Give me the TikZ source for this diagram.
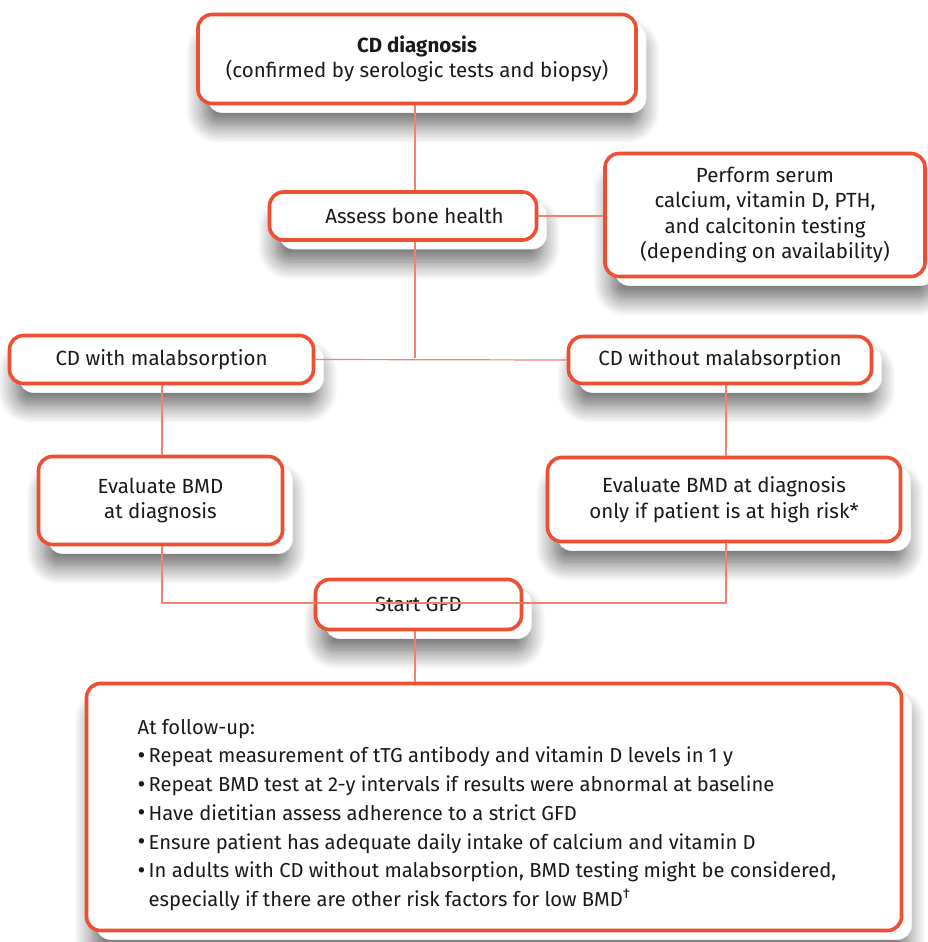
\documentclass[tikz,border=0pt]{standalone}
\usepackage{fontspec}
\setmainfont{Fira Sans}
\usetikzlibrary{shadows,shadows.blur}
\definecolor{cdred}{HTML}{EE4E32}
\definecolor{cdline}{HTML}{F2826F}
\definecolor{cdtext}{HTML}{1A1A1A}
\tikzset{
  card/.style={
    blur shadow={shadow xshift=6pt, shadow yshift=-22pt, shadow blur radius=18pt, shadow opacity=60, shadow blur steps=14},
    general shadow={fill=white, draw=black!6, line width=0.6pt, shadow xshift=10pt, shadow yshift=-9pt},
    draw=cdred, line width=3.6pt, fill=white, rounded corners=14pt,
    align=center, text=cdtext, inner sep=0pt,
    font=\fontsize{20.5pt}{25.5pt}\selectfont},
  conn/.style={draw=cdline, line width=1.2pt}
}
\newcommand{\bul}{\makebox[11pt][l]{\raisebox{-0.5pt}{\fontsize{24pt}{24pt}\selectfont\textbullet}}}
\begin{document}
\begin{tikzpicture}[x=1pt,y=-1pt]
\useasboundingbox (0,0) rectangle (927,942);
\node[card, minimum width=438pt, minimum height=89pt] (diag) at (417,59)
  {\textbf{CD diagnosis}\\(confirmed by serologic tests and biopsy)};
\node[card, minimum width=267pt, minimum height=48pt] (assess) at (403,216)
  {\hspace*{23pt}Assess bone health};
\node[card, minimum width=320pt, minimum height=123pt] (perform) at (765,215)
  {Perform serum\\calcium, vitamin D, PTH,\\and calcitonin testing\\(depending on availability)};
\node[card, minimum width=304pt, minimum height=48pt] (withm) at (161.5,359.5)
  {CD with malabsorption};
\node[card, minimum width=303pt, minimum height=47pt] (withoutm) at (720,360)
  {CD without malabsorption};
\node[card, minimum width=244pt, minimum height=88pt] (evalL) at (160.5,500.5)
  {Evaluate BMD\\at diagnosis};
\node[card, minimum width=353pt, minimum height=84pt] (evalR) at (724,499.5)
  {Evaluate BMD at diagnosis\\only if patient is at high risk*};
\node[card, minimum width=206pt, minimum height=50pt] (gfd) at (418.5,604.5)
  {Start GFD};
\node[card, minimum width=815pt, minimum height=247pt, align=left,
      font=\fontsize{20.2pt}{28.7pt}\selectfont] (follow) at (494,807)
  {\rule{0pt}{31pt}At follow-up:\\
   \bul Repeat measurement of tTG antibody and vitamin D levels in 1 y\\
   \bul Repeat BMD test at 2-y intervals if results were abnormal at baseline\\
   \bul Have dietitian assess adherence to a strict GFD\\
   \bul Ensure patient has adequate daily intake of calcium and vitamin D\\
   \bul In adults with CD without malabsorption, BMD testing might be considered,\rule{14pt}{0pt}\\
   \hspace*{11pt}especially if there are other risk factors for low BMD\textsuperscript{\dag}};
% connectors
\coordinate (j) at (415,358);
\draw[conn] (diag.south -| j) -- (assess.north -| j);
\draw[conn] (assess.south -| j) -- (j);
\draw[conn] (assess.east) -- (perform.west |- assess.east);
\draw[conn] (withm.east) -- (withoutm.west);
\coordinate (lx) at (162,0);
\coordinate (rx) at (726,0);
\draw[conn] (withm.south -| lx) -- (evalL.north -| lx);
\draw[conn] (withoutm.south -| rx) -- (evalR.north -| rx);
\coordinate (gl) at (162,603);
\coordinate (gr) at (726,603);
\draw[conn] (evalL.south -| lx) -- (gl) -- (gr) -- (evalR.south -| rx);
\draw[conn] (gfd.south -| j) -- (follow.north -| j);
\end{tikzpicture}
\end{document}
